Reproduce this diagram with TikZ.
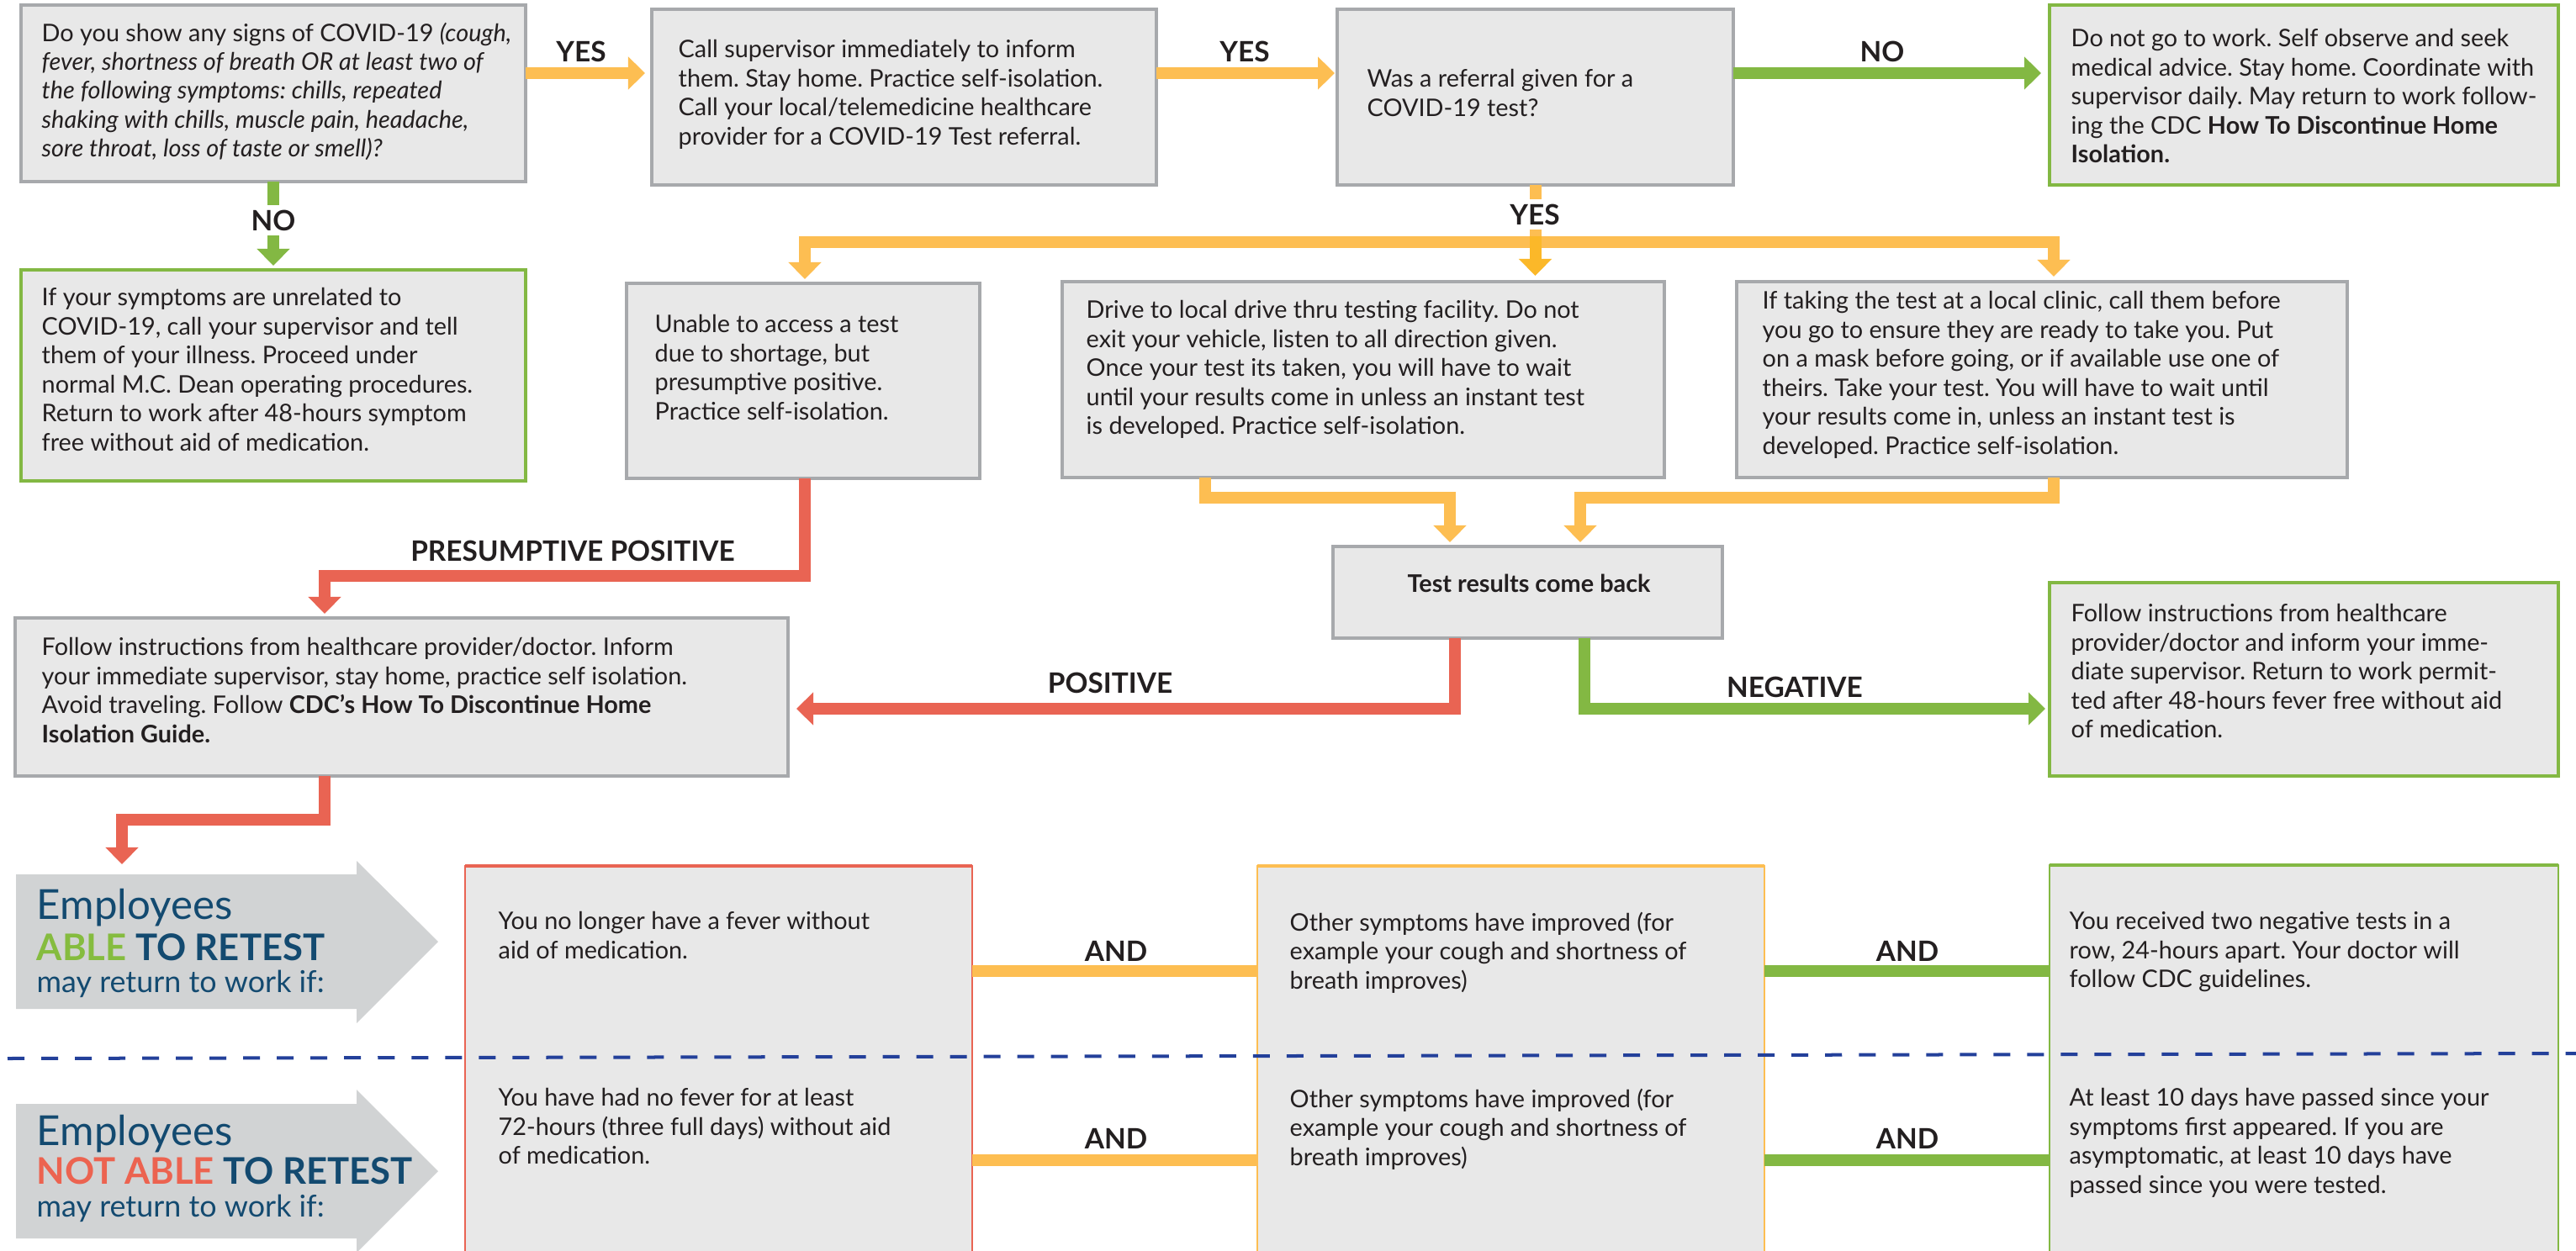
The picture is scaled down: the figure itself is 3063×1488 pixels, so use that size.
\documentclass[tikz,border=0pt]{standalone}
\usepackage{fontspec}
\setmainfont{Lato}
\usetikzlibrary{arrows.meta,fit}
\definecolor{ylw}{HTML}{FDBE52}
\definecolor{ylwd}{HTML}{FBB829}
\definecolor{grn}{HTML}{83B843}
\definecolor{rd}{HTML}{E96453}
\definecolor{boxfill}{HTML}{E8E8E8}
\definecolor{boxline}{HTML}{A7A9AC}
\definecolor{empfill}{HTML}{D1D3D4}
\definecolor{navy}{HTML}{134A70}
\definecolor{dashblue}{HTML}{23409A}
\definecolor{txt}{HTML}{231F20}
\definecolor{ablegreen}{HTML}{85BC3F}
\definecolor{notred}{HTML}{EC6350}
\frenchspacing
\begin{document}
\begin{tikzpicture}[x=0.01cm,y=-0.01cm,
  box/.style={draw=boxline, fill=boxfill, line width=1pt, inner sep=0pt, outer sep=0pt},
  gbox/.style={box, draw=grn},
  colbox/.style={box, line width=0.8pt},
  body/.style={anchor=north west, inner sep=0pt, align=left, text=txt, font=\fontsize{8.2}{9.8}\selectfont},
  lbl/.style={inner sep=0pt, text=txt, font=\fontsize{9.5}{11}\selectfont\bfseries},
  vlbl/.style={lbl, fill=white, inner ysep=0.06cm},
  conn/.style={line width=0.14cm, line join=miter},
  tip/.style={-{Triangle[length=0.2cm,width=0.38cm]}},
  emptxt/.style={anchor=base west, inner sep=0pt, text=navy},
]
\useasboundingbox (0,0) rectangle (3063,1488);
\fill[white] (0,0) rectangle (3063,1488);

% ---------- boxes ----------
\node[box,  fit={(25,6) (625,216)}]     (b1) {};
\node[box,  fit={(775,11) (1375,220)}]  (b2) {};
\node[box,  fit={(1590,11) (2061,220)}] (b3) {};
\node[gbox, fit={(2437,6) (3042,220)}]  (b4) {};
\node[gbox, fit={(25,321) (625,572)}]   (b5) {};
\node[box,  fit={(745,337) (1165,569)}] (b6) {};
\node[box,  fit={(1263,335) (1979,568)}] (b7) {};
\node[box,  fit={(2065,335) (2791,568)}] (b8) {};
\node[box,  fit={(1585,650) (2048,759)}] (b9) {};
\node[box,  fit={(18,735) (937,923)}]   (b10) {};
\node[gbox, fit={(2437,693) (3042,923)}] (b11) {};

% columns
\node[colbox, draw=rd,  fit={(553,1030) (1156,1495)}]  (c1) {};
\node[colbox, draw=ylw, fit={(1495,1030) (2098,1495)}] (c2) {};
\node[colbox, draw=grn, fit={(2437,1029) (3042,1495)}] (c3) {};
\draw[rd,  line width=1.4pt] (c1.north west) -- (c1.north east);
\draw[ylw, line width=1.4pt] (c2.north west) -- (c2.north east);
\draw[grn, line width=1.4pt] (c3.north west) -- (c3.north east);

% ---------- box texts ----------
\node[body] (t1) at (49,26) {Do you show any signs of COVID-19 \textit{(cough,}\\
\textit{fever, shortness of breath OR at least two of}\\
\textit{the following symptoms: chills, repeated}\\
\textit{shaking with chills, muscle pain, headache,}\\
\textit{sore throat, loss of taste or smell)?}};
\node[body] (t2) at (806,47) {Call supervisor immediately to inform\\
them. Stay home. Practice self-isolation.\\
Call your local/telemedicine healthcare\\
provider for a COVID-19 Test referral.};
\node[body] (t3) at (1625,82) {Was a referral given for a\\COVID-19 test?};
\node[body] (t4) at (2462,34) {Do not go to work. Self observe and seek\\
medical advice. Stay home. Coordinate with\\
supervisor daily. May return to work follow-\\
ing the CDC \textbf{How To Discontinue Home}\\
\textbf{Isolation.}};
\node[body] (t5) at (49,342) {If your symptoms are unrelated to\\
COVID-19, call your supervisor and tell\\
them of your illness. Proceed under\\
normal M.C. Dean operating procedures.\\
Return to work after 48-hours symptom\\
free without aid of medication.};
\node[body] (t6) at (778,374) {Unable to access a test\\
due to shortage, but\\
presumptive positive.\\
Practice self-isolation.};
\node[body] (t7) at (1291,357) {Drive to local drive thru testing facility. Do not\\
exit your vehicle, listen to all direction given.\\
Once your test its taken, you will have to wait\\
until your results come in unless an instant test\\
is developed. Practice self-isolation.};
\node[body] (t8) at (2095,346) {If taking the test at a local clinic, call them before\\
you go to ensure they are ready to take you. Put\\
on a mask before going, or if available use one of\\
theirs. Take your test. You will have to wait until\\
your results come in, unless an instant test is\\
developed. Practice self-isolation.};
\node[body, anchor=base, font=\fontsize{8.2}{9.8}\selectfont\bfseries] (t9) at (1818,704) {Test results come back};
\node[body] (t10) at (49,758) {Follow instructions from healthcare provider/doctor. Inform\\
your immediate supervisor, stay home, practice self isolation.\\
Avoid traveling. Follow \textbf{CDC’s How To Discontinue Home}\\
\textbf{Isolation Guide.}};
\node[body] (t11) at (2462,718) {Follow instructions from healthcare\\
provider/doctor and inform your imme-\\
diate supervisor. Return to work permit-\\
ted after 48-hours fever free without aid\\
of medication.};

\node[body] (c1a) at (592,1084) {You no longer have a fever without\\aid of medication.};
\node[body] (c1b) at (592,1294) {You have had no fever for at least\\72-hours (three full days) without aid\\of medication.};
\node[body] (c2a) at (1533,1084) {Other symptoms have improved (for\\example your cough and shortness of\\breath improves)};
\node[body] (c2b) at (1533,1294) {Other symptoms have improved (for\\example your cough and shortness of\\breath improves)};
\node[body] (c3a) at (2460,1084) {You received two negative tests in a\\row, 24-hours apart. Your doctor will\\follow CDC guidelines.};
\node[body] (c3b) at (2460,1294) {At least 10 days have passed since your\\symptoms first appeared. If you are\\asymptomatic, at least 10 days have\\passed since you were tested.};

% ---------- employees arrows ----------
\fill[empfill] (19,1040) -- (424,1040) -- (424,1024) -- (521,1120) -- (424,1217) -- (424,1200) -- (19,1200) -- cycle;
\fill[empfill] (19,1313) -- (424,1313) -- (424,1296) -- (521,1393) -- (424,1490) -- (424,1473) -- (19,1473) -- cycle;
\coordinate (e1top) at (145,1040);
\node[emptxt, font=\fontsize{14}{16}\selectfont] (e1a) at (43,1093) {Employees};
\node[emptxt, font=\fontsize{12.4}{15}\selectfont\bfseries] (e1b) at (43,1142) {\textcolor{ablegreen}{ABLE} TO RETEST};
\node[emptxt, font=\fontsize{10.2}{12}\selectfont] (e1c) at (43,1180) {may return to work if:};
\node[emptxt, font=\fontsize{14}{16}\selectfont] (e2a) at (43,1362) {Employees};
\node[emptxt, font=\fontsize{12.4}{15}\selectfont\bfseries] (e2b) at (43,1408) {\textcolor{notred}{NOT ABLE} TO RETEST};
\node[emptxt, font=\fontsize{10.2}{12}\selectfont] (e2c) at (43,1447) {may return to work if:};

% ---------- connectors ----------
\coordinate (ya) at (0,87);
\draw[conn, ylw, tip, shorten >=0.08cm] (b1.east |- ya) -- (b2.west |- ya);
\draw[conn, ylw, tip, shorten >=0.03cm] (b2.east |- ya) -- (b3.west |- ya);
\draw[conn, grn, tip, shorten >=0.10cm] (b3.east |- ya) -- (b4.west |- ya);
\node[lbl] (lyes1) at (691,61) {YES};
\node[lbl] (lyes2) at (1480,61) {YES};
\node[lbl] (lno1) at (2238,61) {NO};

\draw[conn, grn, tip, shorten >=0.05cm] (b1.south) -- (b5.north);
\node[vlbl] (lno2) at (325,262) {NO};

\coordinate (jL) at (957,288);
\coordinate (jR) at (2442,288);
\coordinate (jC) at (1825,281);
\draw[conn, ylw, {Triangle[length=0.2cm,width=0.38cm]}-{Triangle[length=0.2cm,width=0.38cm]}, shorten <=0.05cm, shorten >=0.06cm]
  (b6.north -| jL) -- (jL) -- (jR) -- (b8.north -| jR);
\draw[conn, ylw] (b3.south) -- (b3.south |- jC);
\draw[conn, ylwd, tip, shorten >=0.07cm] (b3.south |- jC) -- (b3.south |- b7.north);
\node[vlbl] (lyes3) at (1825,255) {YES};

\coordinate (y1) at (1433,592);
\coordinate (y2) at (1724,592);
\coordinate (y3) at (2442,592);
\coordinate (y4) at (1879,592);
\draw[conn, ylw, tip, shorten >=0.05cm] (b7.south -| y1) -- (y1) -- (y2) -- (y2 |- b9.north);
\draw[conn, ylw, tip, shorten >=0.05cm] (b8.south -| y3) -- (y3) -- (y4) -- (y4 |- b9.north);

\coordinate (r1) at (957,685);
\coordinate (r2) at (386,685);
\draw[conn, rd, tip, shorten >=0.05cm] (b6.south -| r1) -- (r1) -- (r2) -- (r2 |- b10.north);
\node[lbl] (lpp) at (681,655) {PRESUMPTIVE POSITIVE};

\coordinate (r3) at (386,975);
\coordinate (r4) at (145,975);
\draw[conn, rd, tip, shorten >=0.12cm] (b10.south -| r3) -- (r3) -- (r4) -- (e1top);

\coordinate (r5) at (1730,843);
\coordinate (g1) at (1884,843);
\draw[conn, rd, tip, shorten >=0.10cm] (b9.south -| r5) -- (r5) -- (r5 -| b10.east);
\draw[conn, grn, tip, shorten >=0.05cm] (b9.south -| g1) -- (g1) -- (g1 -| b11.west);
\node[lbl] (lpos) at (1320,812) {POSITIVE};
\node[lbl] (lneg) at (2134,817) {NEGATIVE};

\coordinate (and1) at (0,1155);
\coordinate (and2) at (0,1380);
\draw[conn, ylw] (c1.east |- and1) -- (c2.west |- and1);
\draw[conn, ylw] (c1.east |- and2) -- (c2.west |- and2);
\draw[conn, grn] (c2.east |- and1) -- (c3.west |- and1);
\draw[conn, grn] (c2.east |- and2) -- (c3.west |- and2);
\node[lbl] (land1) at (1327,1131) {AND};
\node[lbl] (land2) at (1327,1354) {AND};
\node[lbl] (land3) at (2268,1131) {AND};
\node[lbl] (land4) at (2268,1354) {AND};

% dashed divider
\draw[dashblue, line width=0.04cm, dash pattern=on 0.2cm off 0.2cm] (9,1259) -- (3063,1253);
\end{tikzpicture}
\end{document}
